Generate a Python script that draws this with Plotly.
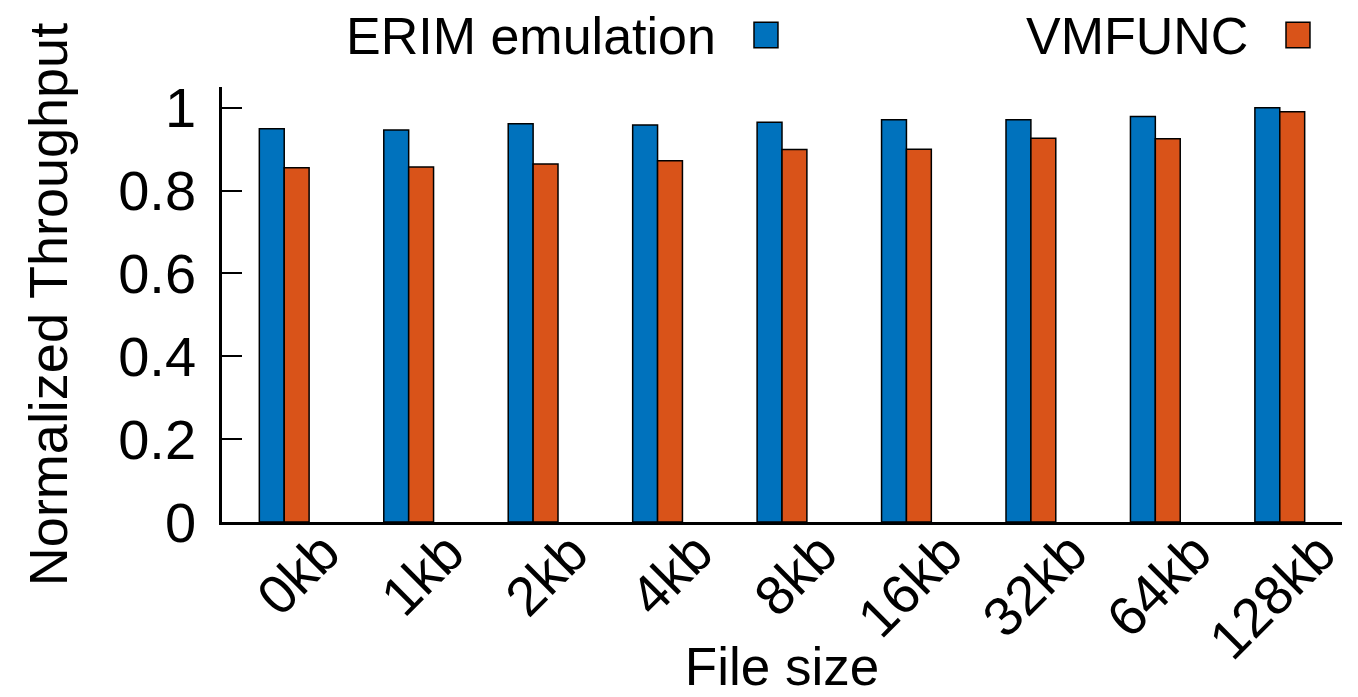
import plotly.graph_objects as go

# data
file_sizes = ["0kb", "1kb", "2kb", "4kb", "8kb", "16kb", "32kb", "64kb", "128kb"]
erim = [0.949, 0.946, 0.961, 0.958, 0.965, 0.971, 0.971, 0.979, 1.0]
vmfunc = [0.855, 0.857, 0.864, 0.872, 0.899, 0.900, 0.926, 0.925, 0.990]
series_names = ["ERIM emulation", "VMFUNC"]
series_colors = ["#0072BD", "#D95319"]

FONT = "Liberation Sans, Arial, Helvetica, sans-serif"
TICK_SIZE = 55
TEXT_SIZE = 53

fig = go.Figure()
for name, vals, color in zip(series_names, [erim, vmfunc], series_colors):
    fig.add_trace(go.Bar(x=file_sizes, y=vals, name=name,
                         marker=dict(color=color, line=dict(color="black", width=1.5))))

# the page body adds an 8px margin, so the figure is 8px smaller on each axis
fig.update_layout(
    width=1350, height=689,
    margin=dict(l=214, r=16, t=79, b=175),
    plot_bgcolor="white", paper_bgcolor="white",
    barmode="group", bargap=0.6, bargroupgap=0,
    showlegend=False,
    font=dict(family=FONT, size=TEXT_SIZE, color="black"),
)

fig.update_xaxes(
    automargin=False,
    showline=True, linecolor="black", linewidth=2.5,
    ticks="", showticklabels=False,
    title=dict(text="File size", font=dict(size=TEXT_SIZE), standoff=125),
    range=[-0.5, 8.5],
)
fig.update_yaxes(
    automargin=False,
    range=[0, 1.05], showline=True, linecolor="black", linewidth=2.5,
    showgrid=False, zeroline=False,
    ticks="inside", ticklen=20, tickwidth=1.5, tickcolor="black",
    tickvals=[0, 0.2, 0.4, 0.6, 0.8, 1], ticktext=["0", "0.2", "0.4", "0.6", "0.8", "1"],
    tickfont=dict(size=TICK_SIZE + 1), ticklabelstandoff=12,
    title=dict(text="Normalized Throughput", font=dict(size=54), standoff=34),
)

# rotated category labels, offset to the right like the original gnuplot output
for label in file_sizes:
    fig.add_annotation(x=label, y=0, xref="x", yref="y", text=label,
                       textangle=-45, showarrow=False,
                       xanchor="right", yanchor="top", xshift=70, yshift=4,
                       font=dict(size=TICK_SIZE, family=FONT, color="black"))

# legend: label text on the left, colour box on the right (as in the original)
legend_text_x = [0.443, 0.918]
legend_box_x = [0.475, 0.95]
for name, color, tx, bx in zip(series_names, series_colors, legend_text_x, legend_box_x):
    fig.add_annotation(x=tx, y=1.118, xref="paper", yref="paper", text=name,
                       showarrow=False, xanchor="right", yanchor="middle",
                       font=dict(size=52, family=FONT, color="black"))
    fig.add_shape(type="rect", xref="paper", yref="paper",
                  x0=bx, x1=bx + 0.0214, y0=1.09, y1=1.149,
                  fillcolor=color, line=dict(color="black", width=1.5))

fig.write_html("out.html")
